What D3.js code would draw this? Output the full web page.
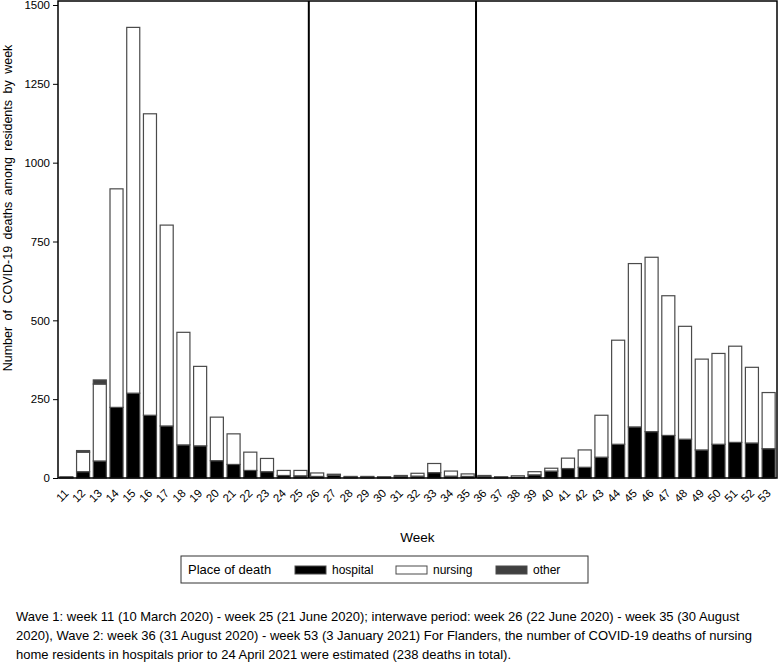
<!DOCTYPE html>
<html>
<head>
<meta charset="utf-8">
<script src="https://cdn.jsdelivr.net/npm/d3@7"></script>
<style>
  body { margin: 0; background: #fff; }
  svg { display: block; font-family: "Liberation Sans", Arial, Helvetica, sans-serif; }
  .axis text { font-size: 11.5px; fill: #000; }
  .axis line, .axis path { stroke: #000; }
</style>
</head>
<body>
<svg width="778" height="672"></svg>
<script>
// week numbers (2020)
const weeks = [11,12,13,14,15,16,17,18,19,20,21,22,23,24,25,
               26,27,28,29,30,31,32,33,34,35,
               36,37,38,39,40,41,42,43,44,45,46,47,48,49,50,51,52,53];
// deaths by place of death
const hospital = [1,20,54,224,269,199,165,105,102,55,43,24,20,8,7,
                  5,9,3,3,2,5,6,17,6,5,
                  5,2,2,10,22,30,34,66,107,162,147,135,123,89,107,113,111,93];
const nursing  = [3,62,244,693,1160,956,637,357,252,138,97,58,42,16,17,
                  11,3,2,2,2,3,9,29,16,8,
                  3,2,5,10,9,33,55,133,330,518,553,443,358,288,288,305,240,178];
const other    = [0,5,13,0,0,0,0,0,0,0,0,0,0,0,0,
                  0,0,0,0,0,0,0,0,0,0,
                  0,0,0,0,0,0,0,0,0,0,0,0,0,0,0,0,0,0];
const yTicks = [0,250,500,750,1000,1250,1500];
const seriesKeys = ['hospital', 'nursing', 'other'];
const seriesColors = ['#000000', '#ffffff', '#404040'];
// period boundaries: wave 1 | interwave | wave 2
const periodStarts = [26, 36];

const footLines = [
  'Wave 1: week 11 (10 March 2020) - week 25 (21 June 2020); interwave period: week 26 (22 June 2020) - week 35 (30 August',
  '2020), Wave 2: week 36 (31 August 2020) - week 53 (3 January 2021) For Flanders, the number of COVID-19 deaths of nursing',
  'home residents in hospitals prior to 24 April 2021 were estimated (238 deaths in total).'
];

const plotLeft = 58, plotRight = 777, plotTop = 1, plotBottom = 478;

const svg = d3.select('svg');

const table = weeks.map((w, i) => ({week: w, hospital: hospital[i], nursing: nursing[i], other: other[i]}));
const stacked = d3.stack().keys(seriesKeys)(table);

const x = d3.scaleBand()
            .domain(weeks)
            .range([plotLeft, plotRight])
            .paddingInner(0.22)
            .paddingOuter(0.11);
const y = d3.scaleLinear()
            .domain([0, 1500])
            .range([plotBottom, 5]);
const color = d3.scaleOrdinal().domain(seriesKeys).range(seriesColors);

// bars
svg.append('g')
   .selectAll('g')
   .data(stacked)
   .enter().append('g')
     .attr('fill', d => color(d.key))
   .selectAll('rect')
   .data(d => d.filter(s => s[1] - s[0] > 0))
   .enter().append('rect')
     .attr('x', d => x(d.data.week))
     .attr('y', d => y(d[1]))
     .attr('width', x.bandwidth())
     .attr('height', d => y(d[0]) - y(d[1]))
     .attr('stroke', '#4a4a4a')
     .attr('stroke-width', 1.2);

// frame
svg.append('rect')
   .attr('x', plotLeft).attr('y', plotTop)
   .attr('width', plotRight - plotLeft).attr('height', plotBottom - plotTop)
   .attr('fill', 'none').attr('stroke', '#000').attr('stroke-width', 1.5);

// period dividers
periodStarts.forEach(function(w){
  let xi = x(w) - x.step()*x.paddingInner()/2;
  svg.append('line')
     .attr('x1', xi).attr('x2', xi)
     .attr('y1', plotTop).attr('y2', plotBottom)
     .attr('stroke', '#000').attr('stroke-width', 2);
});

// y axis
const yAxis = d3.axisLeft(y).tickValues(yTicks).tickFormat(d3.format('d')).tickSize(5).tickPadding(3);
svg.append('g')
   .attr('class', 'axis y-axis')
   .attr('transform', 'translate(' + plotLeft + ',0)')
   .call(yAxis)
   .call(g => g.select('.domain').remove());

// x axis labels
const xAxis = d3.axisBottom(x).tickSize(0);
svg.append('g')
   .attr('class', 'axis x-axis')
   .attr('transform', 'translate(0,' + plotBottom + ')')
   .call(xAxis)
   .call(customXAxis);

function customXAxis(g){
  g.select('.domain').remove();
  g.selectAll('.tick text')
   .attr('text-anchor', 'end')
   .attr('font-size', 12)
   .attr('y', 0).attr('dy', 0)
   .attr('transform', 'translate(3,16) rotate(-45)');
}

// axis titles
svg.append('text')
   .attr('transform', 'translate(12,208) rotate(-90)')
   .attr('text-anchor', 'middle')
   .attr('font-size', 12.5)
   .attr('word-spacing', 3)
   .text('Number of COVID-19 deaths among residents by week');

svg.append('text')
   .attr('x', (plotLeft + plotRight)/2)
   .attr('y', 542)
   .attr('text-anchor', 'middle')
   .attr('font-size', 13.5)
   .text('Week');

// legend
const legend = svg.append('g').attr('transform', 'translate(181,556)');
legend.append('rect')
      .attr('width', 407).attr('height', 27)
      .attr('fill', 'none').attr('stroke', '#333').attr('stroke-width', 1);
legend.append('text')
      .attr('x', 7).attr('y', 18)
      .attr('font-size', 13)
      .text('Place of death');
const legendX = [114, 215, 315];
const item = legend.selectAll('g.item')
      .data(seriesKeys)
      .enter().append('g')
        .attr('class', 'item')
        .attr('transform', (d, i) => 'translate(' + legendX[i] + ',0)');
item.append('rect')
    .attr('y', 10).attr('width', 31).attr('height', 8)
    .attr('fill', d => color(d))
    .attr('stroke', '#4a4a4a');
item.append('text')
    .attr('x', 37).attr('y', 18)
    .attr('font-size', 12)
    .text(d => d);

// footnote
svg.append('g')
   .selectAll('text')
   .data(footLines)
   .enter().append('text')
     .attr('x', 16)
     .attr('y', (d, i) => 621 + i*19)
     .attr('font-size', 13)
     .text(d => d);
</script>
</body>
</html>
